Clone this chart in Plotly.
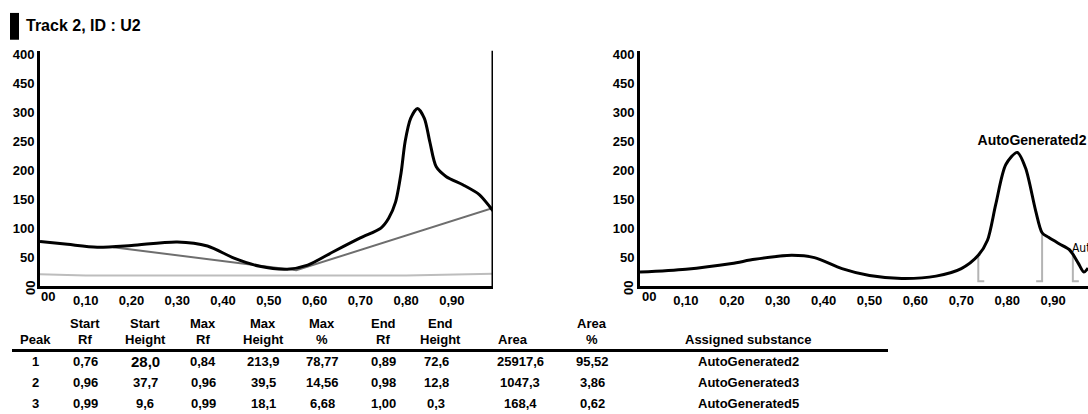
import plotly.graph_objects as go

W, H = 1088, 414

# ---------------- data ----------------
title_text = "Track 2, ID : U2"

y_tick_vals = [50, 100, 150, 200, 250, 300, 350, 400]
y_tick_text = ["50", "100", "150", "200", "250", "300", "450", "400"]
x_tick_vals = [0.1, 0.2, 0.3, 0.4, 0.5, 0.6, 0.7, 0.8, 0.9]
x_tick_text = ["0,10", "0,20", "0,30", "0,40", "0,50", "0,60", "0,70", "0,80", "0,90"]

# left panel: raw densitogram
left_x = [0.00, 0.06, 0.125, 0.20, 0.30, 0.366, 0.424, 0.48, 0.54, 0.585, 0.643, 0.70,
          0.745, 0.762, 0.777, 0.789, 0.798, 0.81, 0.825, 0.84, 0.852, 0.866, 0.888,
          0.924, 0.96, 0.983, 0.99]
left_y = [77, 72, 67, 70, 76, 69, 48, 34, 29, 36, 60, 83,
          100, 117, 145, 195, 250, 290, 307, 290, 249, 206, 189,
          175, 158, 137, 130]
base_dark_x = [0.16, 0.56, 0.99]
base_dark_y = [67, 27, 135]
base_light_x = [0.00, 0.10, 0.80, 0.99]
base_light_y = [20, 18, 18, 21]

# right panel: baseline-corrected densitogram
right_x = [0.00, 0.10, 0.20, 0.25, 0.33, 0.38, 0.44, 0.50, 0.57, 0.645, 0.70, 0.737,
           0.757, 0.775, 0.797, 0.822, 0.84, 0.862, 0.876, 0.89, 0.913, 0.935,
           0.943, 0.955, 0.967, 0.976]
right_y = [24, 29, 39, 46, 53, 49, 30, 18, 13, 17, 30, 53,
           79, 141, 210, 231, 204, 130, 92, 84, 73, 63,
           55, 39, 24, 31]
drop_x = [0.737, 0.876, 0.943]
drop_top = [53, 92, 55]
drop_dir = [1, -1, 1]
drop_base = 8

peak_labels = ["AutoGenerated2", "AutoGenerated3"]
peak_label_x = [0.854, 0.941]
peak_label_y = [250, 64]

# table
col_head1 = ["", "Start", "Start", "Max", "Max", "Max", "End", "End", "", "Area", ""]
col_head2 = ["Peak", "Rf", "Height", "Rf", "Height", "%", "Rf", "Height", "Area", "%", "Assigned substance"]
table_rows = [
    ["1", "0,76", "28,0", "0,84", "213,9", "78,77", "0,89", "72,6", "25917,6", "95,52", "AutoGenerated2"],
    ["2", "0,96", "37,7", "0,96", "39,5", "14,56", "0,98", "12,8", "1047,3", "3,86", "AutoGenerated3"],
    ["3", "0,99", "9,6", "0,99", "18,1", "6,68", "1,00", "0,3", "168,4", "0,62", "AutoGenerated5"],
]

# ---------------- layout helpers ----------------
def px(x):
    return x / W

def py(y):
    return 1 - y / H

FONT = "Liberation Sans, Arial, sans-serif"
NARROW = "Liberation Sans Narrow, DejaVu Sans Condensed, sans-serif"

fig = go.Figure()

# left traces
fig.add_trace(go.Scatter(x=base_light_x, y=base_light_y, mode="lines",
                         line=dict(color="#bdbdbd", width=2), xaxis="x", yaxis="y"))
fig.add_trace(go.Scatter(x=base_dark_x, y=base_dark_y, mode="lines",
                         line=dict(color="#6e6e6e", width=2), xaxis="x", yaxis="y"))
fig.add_trace(go.Scatter(x=left_x, y=left_y, mode="lines",
                         line=dict(color="black", width=3, shape="spline", smoothing=0.8),
                         xaxis="x", yaxis="y"))

# right traces
for dx, dt, dd in zip(drop_x, drop_top, drop_dir):
    fig.add_trace(go.Scatter(x=[dx + dd * 0.013, dx, dx], y=[drop_base, drop_base, dt],
                             mode="lines", line=dict(color="#b4b4b4", width=2),
                             xaxis="x2", yaxis="y2"))
fig.add_trace(go.Scatter(x=right_x, y=right_y, mode="lines",
                         line=dict(color="black", width=3, shape="spline", smoothing=0.8),
                         xaxis="x2", yaxis="y2"))
fig.add_trace(go.Scatter(x=[peak_label_x[0]], y=[peak_label_y[0]], mode="text",
                         text=[peak_labels[0]], textposition="middle center",
                         textfont=dict(family=FONT, size=14, color="black", weight="bold"),
                         xaxis="x2", yaxis="y2", cliponaxis=False))
fig.add_trace(go.Scatter(x=[peak_label_x[1]], y=[peak_label_y[1]], mode="text",
                         text=[peak_labels[1]], textposition="middle right",
                         textfont=dict(family=NARROW, size=12, color="black"),
                         xaxis="x2", yaxis="y2", cliponaxis=True))

ydom = [py(285), py(48)]
axis_common = dict(showgrid=False, zeroline=False, showline=True, linecolor="black",
                   linewidth=3, ticks="", tickfont=dict(family=FONT, size=13, color="black",
                                                        weight="bold"))

fig.update_layout(
    width=W, height=H, margin=dict(l=0, r=0, t=0, b=0),
    paper_bgcolor="white", plot_bgcolor="white", showlegend=False,
    xaxis=dict(domain=[px(40), px(493)], range=[0, 0.99], anchor="y",
               tickvals=x_tick_vals, ticktext=x_tick_text, **axis_common),
    yaxis=dict(domain=ydom, range=[0, 407], anchor="x",
               tickvals=y_tick_vals, ticktext=y_tick_text, **axis_common),
    xaxis2=dict(domain=[px(640), 1], range=[0, 0.976], anchor="y2",
                tickvals=x_tick_vals, ticktext=x_tick_text, **axis_common),
    yaxis2=dict(domain=ydom, range=[0, 407], anchor="x2",
                tickvals=y_tick_vals, ticktext=y_tick_text, **axis_common),
)

shapes = []
# right border line of left panel
shapes.append(dict(type="line", xref="x", yref="paper", x0=0.99, x1=0.99,
                   y0=ydom[0], y1=ydom[1], line=dict(color="black", width=3)))
# title marker
shapes.append(dict(type="rect", xref="paper", yref="paper", x0=px(10), x1=px(19),
                   y0=py(37), y1=py(10), fillcolor="black", line=dict(width=0)))
# table rule
shapes.append(dict(type="line", xref="paper", yref="paper", x0=px(12), x1=px(888),
                   y0=py(350), y1=py(350), line=dict(color="black", width=3)))
fig.update_layout(shapes=shapes)

ann = []
ann.append(dict(text=title_text, xref="paper", yref="paper", x=px(24), y=py(23),
                xanchor="left", yanchor="middle", showarrow=False,
                font=dict(family=FONT, size=16, color="black", weight="bold")))
# "00" labels at origins
for xleft, yrot_x in [(39, 31), (640, 629)]:
    ann.append(dict(text="00", xref="paper", yref="paper", x=px(xleft), y=py(296),
                    xanchor="left", yanchor="middle", showarrow=False,
                    font=dict(family=FONT, size=13, color="black", weight="bold")))
    ann.append(dict(text="00", xref="paper", yref="paper", x=px(yrot_x), y=py(287),
                    xanchor="center", yanchor="middle", textangle=-90, showarrow=False,
                    font=dict(family=FONT, size=13, color="black", weight="bold")))

# table
head_x = [35, 85, 145, 203, 263, 322, 383, 440, 513, 592, 748]
val_x = [35, 85, 145, 203, 263, 322, 383, 436, 520, 592, 748]
head_y1, head_y2 = 323, 339
row_y = [361, 382, 403]
tfont = dict(family=FONT, size=13, color="black", weight="bold")
for i in range(len(col_head2)):
    if col_head1[i]:
        ann.append(dict(text=col_head1[i], xref="paper", yref="paper", x=px(head_x[i]),
                        y=py(head_y1), xanchor="center", yanchor="middle",
                        showarrow=False, font=tfont))
    ann.append(dict(text=col_head2[i], xref="paper", yref="paper", x=px(head_x[i]),
                    y=py(head_y2), xanchor="center", yanchor="middle",
                    showarrow=False, font=tfont))
for r, row in enumerate(table_rows):
    for i, cell in enumerate(row):
        f = tfont
        if r == 0 and i == 2:
            f = dict(family=FONT, size=15, color="black", weight="bold")
        ann.append(dict(text=cell, xref="paper", yref="paper", x=px(val_x[i]),
                        y=py(row_y[r]), xanchor="center", yanchor="middle",
                        showarrow=False, font=f))
fig.update_layout(annotations=ann)

fig.write_html("out.html", config={"displayModeBar": False},
               post_script="document.body.style.margin='0';document.body.style.overflow='hidden';")
